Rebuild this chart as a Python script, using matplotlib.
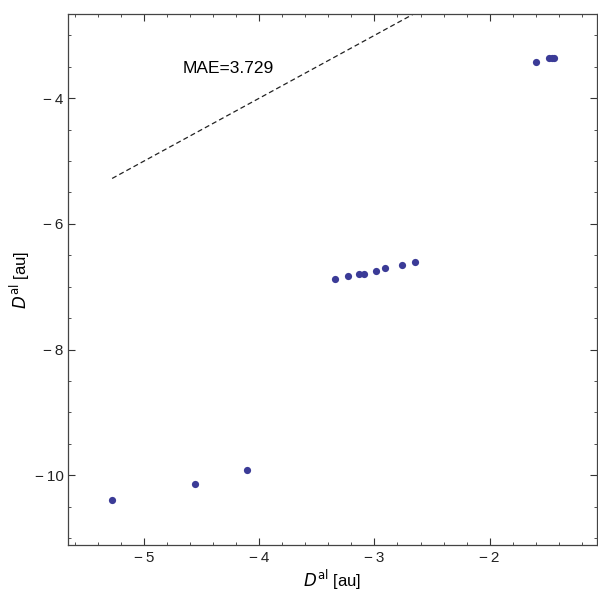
import numpy as np
import matplotlib
matplotlib.use("Agg")
import matplotlib.pyplot as plt
from matplotlib.ticker import MultipleLocator, FixedLocator

# D^al reference vs. predicted (au)
x_ref = [-5.277, -4.558, -4.108,
         -3.344, -3.231, -3.130, -3.095, -2.985, -2.907, -2.760, -2.651,
         -1.595, -1.485, -1.461, -1.442]
y_pred = [-10.40, -10.14, -9.92,
          -6.877, -6.834, -6.800, -6.800, -6.755, -6.707, -6.648, -6.600,
          -3.422, -3.363, -3.363, -3.363]
mae_label = "MAE=3.729"
xticks = [-5, -4, -3, -2]
yticks = [-10, -8, -6, -4]

plt.rcParams["font.family"] = ["Liberation Sans", "DejaVu Sans"]

fig = plt.figure(figsize=(5.98, 5.91), dpi=100)
ax = fig.add_axes([68 / 598, 1 - 545 / 591, 1 - 68 / 598 - 0.002, (545 - 14) / 591])

ax.plot(x_ref, y_pred, "o", color="#3b3b97", markersize=5.2, markeredgewidth=0)

# y = x diagonal over the data range
lo, hi = min(x_ref), max(x_ref)
ax.plot([lo, hi], [lo, hi], "--", color="#222222", lw=0.9, dashes=(4, 2.5))

ax.text(-4.27, -3.52, mae_label, ha="center", va="center", fontsize=12.5)

ax.set_xlim(-5.66, -1.07)
ax.set_ylim(-11.11, -2.66)

ax.xaxis.set_major_locator(FixedLocator(xticks))
ax.xaxis.set_minor_locator(MultipleLocator(0.2))
ax.yaxis.set_major_locator(FixedLocator(yticks))
ax.yaxis.set_minor_locator(MultipleLocator(0.5))

fmt = lambda v: "\u2212\u2009%d" % abs(v) if v < 0 else "%d" % v
ax.set_xticklabels([fmt(v) for v in xticks])
ax.set_yticklabels([fmt(v) for v in yticks])

ax.tick_params(which="both", direction="in", top=True, right=True,
               color="#333333", labelcolor="#222222", labelsize=11)
ax.tick_params(which="major", length=5, width=0.8)
ax.tick_params(which="minor", length=2.5, width=0.6)
ax.tick_params(axis="x", pad=4)
ax.tick_params(axis="y", pad=3)
for s in ax.spines.values():
    s.set_color("#444444")
    s.set_linewidth(0.9)

ax.set_xlabel(r"$D^{\mathrm{al}}$ [au]", fontsize=12, labelpad=2)
ax.set_ylabel(r"$D^{\mathrm{al}}$ [au]", fontsize=12, labelpad=2)

fig.savefig("out.png", dpi=100)
